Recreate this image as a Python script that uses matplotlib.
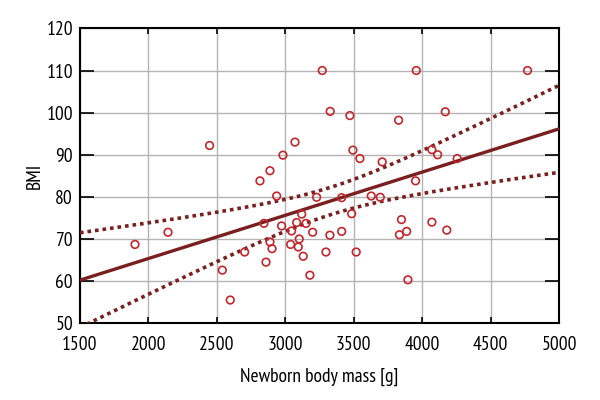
import numpy as np
import matplotlib
matplotlib.use("Agg")
import matplotlib.pyplot as plt
from matplotlib import font_manager

mass = [1902, 2143, 2447, 2540, 2598, 2703, 2815, 2844, 2859, 2888, 2888, 2903,
        2937, 2973, 2983, 3039, 3046, 3071, 3083, 3095, 3102, 3120, 3131, 3151,
        3180, 3200, 3229, 3270, 3297, 3328, 3326, 3412, 3412, 3472, 3485, 3494,
        3518, 3545, 3628, 3694, 3708, 3828, 3849, 3834, 3887, 3896, 3952, 3957,
        4071, 4071, 4113, 4169, 4180, 4256, 4770]
bmi = [68.7, 71.6, 92.2, 62.6, 55.5, 66.9, 83.8, 73.7, 64.5, 86.2, 69.3, 67.7,
       80.2, 73.1, 89.9, 68.7, 71.9, 93.0, 73.9, 68.1, 70.0, 75.9, 65.9, 73.7,
       61.4, 71.6, 79.9, 110.0, 66.9, 100.3, 70.9, 79.8, 71.8, 99.3, 76.0, 91.1,
       66.9, 89.1, 80.2, 79.9, 88.3, 98.2, 74.6, 71.0, 71.8, 60.3, 83.8, 110.0,
       91.2, 74.0, 90.0, 100.2, 72.1, 89.1, 110.0]
x_ticks = [1500, 2000, 2500, 3000, 3500, 4000, 4500, 5000]
y_ticks = [50, 60, 70, 80, 90, 100, 110, 120]

names = {f.name for f in font_manager.fontManager.ttflist}
fam = [f for f in ["PT Sans Narrow", "Open Sans Condensed", "Roboto Condensed", "DejaVu Sans"] if f in names]
plt.rcParams['font.family'] = fam

x = np.array(mass, float)
y = np.array(bmi, float)
n = len(x)
b, a = np.polyfit(x, y, 1)
xs = np.linspace(x_ticks[0], x_ticks[-1], 200)
yhat = a + b * xs
res = y - (a + b * x)
s = np.sqrt(np.sum(res**2) / (n - 2))
sxx = np.sum((x - x.mean())**2)
half = 2.007 * s * np.sqrt(1.0 / n + (xs - x.mean())**2 / sxx)

fig = plt.figure(figsize=(6, 4), dpi=100)
ax = fig.add_axes([0.1333, 0.192, 0.7984, 0.737])
line_c = '#7a1f1f'
ax.plot(xs, yhat, color=line_c, lw=2.4, zorder=3)
ax.plot(xs, yhat + half, color=line_c, lw=2.6, ls=(0, (1, 1.1)), zorder=3)
ax.plot(xs, yhat - half, color=line_c, lw=2.6, ls=(0, (1, 1.1)), zorder=3)
ax.scatter(x, y, s=30, facecolors='none', edgecolors='#c1272d', linewidths=1.2, zorder=4)

ax.set_xlim(x_ticks[0], x_ticks[-1])
ax.set_ylim(y_ticks[0], y_ticks[-1])
ax.set_xticks(x_ticks)
ax.set_yticks(y_ticks)
ax.grid(True, color='#b4b4b4', lw=1.0)
ax.set_axisbelow(True)
ax.tick_params(axis='x', direction='in', length=4, width=1.2, top=True, labelsize=14, pad=9)
ax.tick_params(axis='y', direction='in', length=10, width=1.2, right=True, labelsize=14, pad=5)
for sp in ax.spines.values():
    sp.set_linewidth(1.5)
ax.set_xlabel('Newborn body mass [g]', fontsize=14, labelpad=10)
ax.set_ylabel('BMI', fontsize=14, labelpad=2)
fig.savefig('out.png', dpi=100)
